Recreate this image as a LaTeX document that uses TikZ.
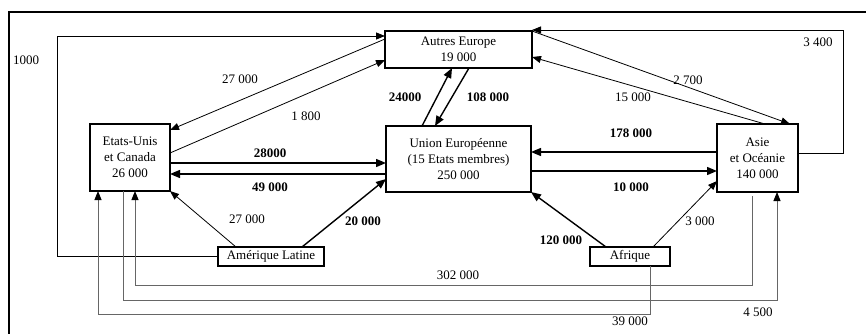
\documentclass[tikz,border=0pt]{standalone}
\usepackage{fontspec}
\setmainfont{Liberation Serif}
\usetikzlibrary{arrows.meta,calc}
\begin{document}
\begin{tikzpicture}[x=1pt,y=-1pt,
  box/.style={draw,line width=2.4pt,inner sep=0pt,outer sep=0pt,align=center,font=\fontsize{13}{16}\selectfont},
  lab/.style={inner sep=0pt,font=\fontsize{13}{16}\selectfont},
  blab/.style={inner sep=0pt,font=\fontsize{13}{16}\selectfont\bfseries},
  arr/.style={-{Triangle[length=9pt,width=7pt]},line width=0.8pt},
  barr/.style={-{Triangle[length=10pt,width=8pt]},line width=1.4pt},
  garr/.style={-{Triangle[length=9pt,width=7pt,color=black]},line width=1pt,draw=black!60},
  ]
\useasboundingbox (0,0) rectangle (866,334);
% frame
\draw[line width=2.2pt] (9,340) -- (9,12) -- (870,12);

% boxes
\node[box,minimum width=147pt,minimum height=37pt] (ae) at (458.5,49.5) {Autres Europe\\19 000};
\node[box,minimum width=145pt,minimum height=66pt] (ue) at (458.5,159) {Union Européenne\\(15 Etats membres)\\250 000};
\node[box,minimum width=80pt,minimum height=67pt] (eu) at (130,157.5) {Etats-Unis\\et Canada\\26 000};
\node[box,minimum width=81pt,minimum height=68pt] (as) at (757.5,158) {Asie\\et Océanie\\140 000};
\node[box,minimum width=106pt,minimum height=19pt] (al) at (271,256.5) {Amérique Latine};
\node[box,minimum width=80pt,minimum height=19pt] (af) at (630,256.5) {Afrique};

% connectors
\coordinate (c1) at (57,36);
\draw[arr] (al.west) -| (c1) -- (ae.west |- c1);
\draw[arr] (ae.west |- 0,39) -- (eu.east |- 0,130);
\draw[arr] (eu.east |- 0,153) -- (ae.west |- 0,60);
\draw[barr] (eu.east |- 0,163) -- (ue.west |- 0,163);
\draw[barr] (ue.west |- 0,174) -- (eu.east |- 0,174);
\draw[arr] (al.north -| 236,0) -- (eu.south east);
\draw[barr] (al.north -| 302,0) -- (ue.west |- 0,179);
\draw[barr] (ue.north -| 422,0) -- (ae.south -| 452,0);
\draw[barr] (ae.south -| 469,0) -- (ue.north -| 435,0);
\draw[arr] (ae.north east) -- (as.north -| 790,0);
\draw[arr] (as.north -| 765,0) -- (ae.east |- 0,57);
\coordinate (c3) at (843,30);
\draw[arr] (as.east |- 0,153) -| (c3) -- (ae.east |- c3);
\draw[barr] (as.west |- 0,152) -- (ue.east |- 0,152);
\draw[barr] (ue.east |- 0,171) -- (as.west |- 0,171);
\draw[barr] (af.north -| 606,0) -- (ue.south east);
\draw[arr] (af.north -| 653,0) -- (as.west |- 0,181);

\coordinate (c17) at (135,285);
\draw[garr,shorten <=4pt] (as.south -| 752,0) |- (c17) -- (eu.south -| c17);
\coordinate (c18) at (777,300);
\draw[garr] (eu.south -| 123,0) |- (c18) -- (as.south -| c18);
\coordinate (c19) at (98,314);
\draw[garr] (af.south -| 650,0) |- (c19) -- (eu.south -| c19);

% labels
\node[lab] (l1) at (26,60) {1000};
\node[lab] (l2) at (240,79) {27 000};
\node[lab] (l3) at (306,116) {1 800};
\node[blab] (l4) at (270,153) {28000};
\node[blab] (l5) at (270,187) {49 000};
\node[lab] (l6) at (247,219) {27 000};
\node[blab] (l7) at (363,221) {20 000};
\node[blab] (l8) at (405,97) {24000};
\node[blab] (l9) at (488,97) {108 000};
\node[lab] (l10) at (688,80) {2 700};
\node[lab] (l11) at (633,97) {15 000};
\node[lab] (l12) at (818,42) {3 400};
\node[blab] (l13) at (631,133) {178 000};
\node[blab] (l14) at (631,187) {10 000};
\node[blab] (l15) at (561,240) {120 000};
\node[lab] (l16) at (700,221) {3 000};
\node[lab] (l17) at (458,275) {302 000};
\node[lab] (l18) at (758,312) {4 500};
\node[lab] (l19) at (630,321) {39 000};
\end{tikzpicture}
\end{document}
